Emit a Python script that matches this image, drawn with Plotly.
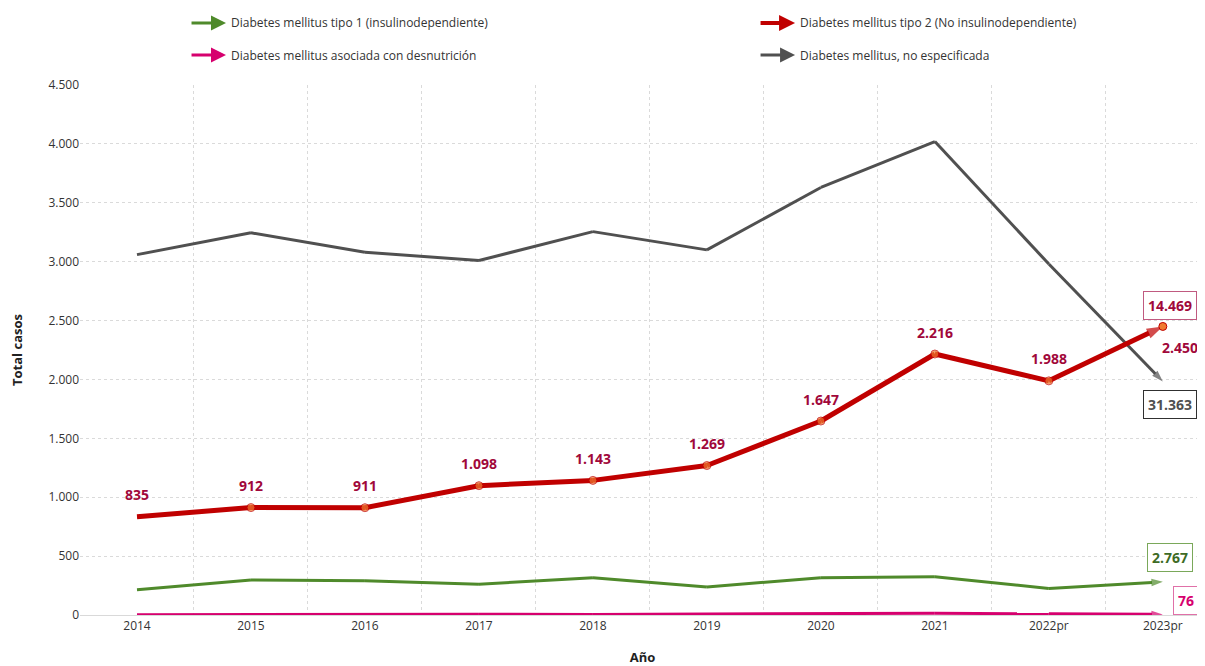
import plotly.graph_objects as go

years = ["2014", "2015", "2016", "2017", "2018", "2019", "2020", "2021", "2022pr", "2023pr"]
tipo1 = [215, 298, 290, 262, 316, 238, 316, 325, 225, 282]
tipo2 = [835, 912, 911, 1098, 1143, 1269, 1647, 2216, 1988, 2450]
desnutricion = [3, 5, 10, 6, 5, 8, 9, 15, 10, 5]
no_especificada = [3060, 3245, 3080, 3010, 3255, 3100, 3630, 4020, 2980, 1983]

names = ["Diabetes mellitus tipo 1 (insulinodependiente)",
         "Diabetes mellitus tipo 2 (No insulinodependiente)",
         "Diabetes mellitus asociada con desnutrición",
         "Diabetes mellitus, no especificada"]

C_GREEN = "#4f8a2b"
C_RED = "#c00000"
C_PINK = "#d6006e"
C_GREY = "#505050"
C_LABEL = "#a1083a"
FONT = "Open Sans"

def fmt(v):
    return f"{v:,}".replace(",", ".")

n = len(years)
fig = go.Figure()

def arrow_line(y, color, width, head):
    fig.add_trace(go.Scatter(
        x=years, y=y, mode="lines+markers",
        line=dict(color=color, width=width),
        marker=dict(symbol=["circle"] * (n - 1) + ["arrow"],
                    size=[0] * (n - 1) + [head],
                    color=color, angleref="previous",
                    line=dict(width=0)),
        hoverinfo="x+y", showlegend=False))

arrow_line(no_especificada, C_GREY, 3, 12)
arrow_line(desnutricion, C_PINK, 3, 12)
arrow_line(tipo1, C_GREEN, 3, 12)

# tipo 2: thick red line with orange markers and arrow head
fig.add_trace(go.Scatter(
    x=years, y=tipo2, mode="lines+markers",
    line=dict(color=C_RED, width=5),
    marker=dict(symbol=["circle"] * (n - 1) + ["arrow"],
                size=[8] * (n - 1) + [17],
                color=["#f07a30"] * (n - 1) + [C_RED],
                angleref="previous",
                line=dict(color=C_RED, width=[1] * (n - 1) + [0])),
    showlegend=False))
fig.add_trace(go.Scatter(
    x=[years[-1]], y=[tipo2[-1]], mode="markers",
    marker=dict(symbol="circle", size=8, color="#f07a30", line=dict(color=C_RED, width=1)),
    showlegend=False))

annotations = []
# data labels for tipo 2 (x given as category index)
for i, v in enumerate(tipo2):
    last = i == n - 1
    annotations.append(dict(
        x=i, y=v, xref="x", yref="y", text=f"<b>{fmt(v)}</b>", showarrow=False,
        xshift=17 if last else 0, yshift=-21 if last else 22,
        font=dict(family=FONT, size=14, color=C_LABEL)))

# boxed totals
totals = [
    (sum(tipo2), 2632, C_LABEL, "#c05a80", 7),
    (sum(no_especificada), 1791, C_GREY, "#303030", 7),
    (sum(tipo1), 492, "#3e6b25", "#7aa85a", 7),
    (sum(desnutricion), 127, C_PINK, "#e070a8", 23),
]
for tot, ypos, tc, bc, xs in totals:
    annotations.append(dict(
        x=n - 1, y=ypos, xref="x", yref="y", text=f"<b>{fmt(tot)}</b>",
        showarrow=False, xshift=xs, bgcolor="white", bordercolor=bc, borderwidth=1,
        borderpad=4, font=dict(family=FONT, size=14, color=tc)))

# custom legend with arrows
legend_items = [
    (names[0], C_GREEN, 0.1298, 1.1170),
    (names[1], C_RED, 0.6356, 1.1170),
    (names[2], C_PINK, 0.1298, 1.0566),
    (names[3], C_GREY, 0.6356, 1.0566),
]
for name, col, lx, ly in legend_items:
    annotations.append(dict(
        x=lx, y=ly, xref="paper", yref="paper", ax=-36, ay=0, text="",
        showarrow=True, arrowhead=2, arrowsize=1 if col != C_RED else 0.8,
        arrowwidth=4 if col == C_RED else 3, arrowcolor=col))
    annotations.append(dict(
        x=lx + 0.003, y=ly, xref="paper", yref="paper", text=name, showarrow=False,
        xanchor="left", yanchor="middle", font=dict(family=FONT, size=12, color="#333333")))

# the page body adds an 8px offset, so the figure is sized to fill the rest of the window
fig.update_layout(
    width=1197, height=658,
    margin=dict(l=72, r=0, t=77, b=51, autoexpand=False),
    paper_bgcolor="white", plot_bgcolor="white",
    separators=",.",
    font=dict(family=FONT, size=12, color="#333333"),
    annotations=annotations,
    xaxis=dict(
        type="category", range=[-0.5, 9.37], tickson="boundaries", automargin=False,
        showgrid=True, gridcolor="#dadada", griddash="dot", gridwidth=1,
        showline=True, linecolor="#d9d9d9", linewidth=1, ticks="",
        tickfont=dict(family=FONT, size=12, color="#333333"),
        title=dict(text="<b>Año</b>", font=dict(family=FONT, size=13, color="#222222"), standoff=22),
    ),
    yaxis=dict(
        range=[0, 4500], dtick=500, tickformat=",d", automargin=False,
        showgrid=True, gridcolor="#dadada", griddash="dot", gridwidth=1,
        zeroline=False, ticks="", showline=False,
        tickfont=dict(family=FONT, size=12, color="#333333"),
        title=dict(text="<b>Total casos</b>", font=dict(family=FONT, size=13, color="#222222"), standoff=22),
    ),
)

fig.write_html("out.html")
